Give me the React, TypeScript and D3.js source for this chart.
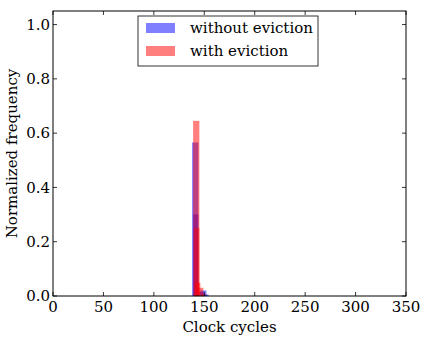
import * as d3 from "d3";
import { useEffect, useRef } from "react";

// histogram bins: [start cycle, end cycle, normalized frequency]
const withoutEviction: [number, number, number][] = [
  [138, 144, 0.565],
  [139, 144, 0.3],
  [143, 149, 0.015],
  [146, 152, 0.02],
  [149, 154, 0.005],
];
const withEviction: [number, number, number][] = [
  [139, 145, 0.645],
  [140, 145, 0.25],
  [141, 146, 0.048],
  [144, 149, 0.03],
  [147, 151, 0.008],
];
const xTicks = [0, 50, 100, 150, 200, 250, 300, 350];
const yTicks = [0, 0.2, 0.4, 0.6, 0.8, 1.0];
const legendItems = [
  { label: "without eviction", color: "blue" },
  { label: "with eviction", color: "red" },
];

export default function App() {
  const svgRef = useRef<SVGSVGElement>(null);
  const width = 423;
  const height = 338;
  const margin = { top: 11, right: 17, bottom: 42, left: 53 };

  useEffect(() => {
    const svg = d3.select(svgRef.current);
    svg.selectAll("*").remove();
    const font = "DejaVu Serif";
    const fs = 15;

    const x = d3.scaleLinear().domain([0, 350]).range([margin.left, width - margin.right]);
    const y = d3.scaleLinear().domain([0, 1.05]).range([height - margin.bottom, margin.top]);

    const g = svg.append("g");

    // bars
    const series = [
      { bins: withoutEviction, color: "blue" },
      { bins: withEviction, color: "red" },
    ];
    series.forEach((s) => {
      g.append("g")
        .selectAll("rect")
        .data(s.bins)
        .join("rect")
        .attr("x", (d) => x(d[0]))
        .attr("width", (d) => x(d[1]) - x(d[0]))
        .attr("y", (d) => y(d[2]))
        .attr("height", (d) => y(0) - y(d[2]))
        .attr("fill", s.color)
        .attr("fill-opacity", 0.5)
        .attr("stroke", s.color)
        .attr("stroke-opacity", 0.15)
        .attr("stroke-width", 0.5);
    });

    // frame
    g.append("rect")
      .attr("x", x(0))
      .attr("y", y(1.05))
      .attr("width", x(350) - x(0))
      .attr("height", y(0) - y(1.05))
      .attr("fill", "none")
      .attr("stroke", "#000")
      .attr("stroke-width", 1);

    const tickLen = 4;
    // x ticks (inside, bottom and top)
    xTicks.forEach((t) => {
      g.append("line")
        .attr("x1", x(t)).attr("x2", x(t))
        .attr("y1", y(0)).attr("y2", y(0) - tickLen)
        .attr("stroke", "#000").attr("stroke-width", 0.8);
      g.append("line")
        .attr("x1", x(t)).attr("x2", x(t))
        .attr("y1", y(1.05)).attr("y2", y(1.05) + tickLen)
        .attr("stroke", "#000").attr("stroke-width", 0.8);
      g.append("text")
        .attr("x", x(t))
        .attr("y", y(0) + 16)
        .attr("text-anchor", "middle")
        .style("font-family", font)
        .style("font-size", `${fs}px`)
        .text(String(t));
    });

    // y ticks (inside, left and right)
    yTicks.forEach((t) => {
      g.append("line")
        .attr("x1", x(0)).attr("x2", x(0) + tickLen)
        .attr("y1", y(t)).attr("y2", y(t))
        .attr("stroke", "#000").attr("stroke-width", 0.8);
      g.append("line")
        .attr("x1", x(350)).attr("x2", x(350) - tickLen)
        .attr("y1", y(t)).attr("y2", y(t))
        .attr("stroke", "#000").attr("stroke-width", 0.8);
      g.append("text")
        .attr("x", x(0) - 3)
        .attr("y", y(t))
        .attr("dy", "0.35em")
        .attr("text-anchor", "end")
        .style("font-family", font)
        .style("font-size", `${fs}px`)
        .text(t.toFixed(1));
    });

    // axis labels
    g.append("text")
      .attr("x", (x(0) + x(350)) / 2)
      .attr("y", 332)
      .attr("text-anchor", "middle")
      .style("font-family", font)
      .style("font-size", `${fs}px`)
      .text("Clock cycles");
    g.append("text")
      .attr("transform", `translate(12,${(y(0) + y(1.05)) / 2}) rotate(-90)`)
      .attr("text-anchor", "middle")
      .attr("dy", "0.35em")
      .style("font-family", font)
      .style("font-size", `${fs}px`)
      .text("Normalized frequency");

    // legend
    const lg = g.append("g").attr("transform", "translate(138,16)");
    lg.append("rect")
      .attr("width", 180)
      .attr("height", 50)
      .attr("fill", "#fff")
      .attr("stroke", "#000")
      .attr("stroke-width", 0.8);
    legendItems.forEach((item, i) => {
      lg.append("rect")
        .attr("x", 8)
        .attr("y", 7 + i * 23)
        .attr("width", 29)
        .attr("height", 10)
        .attr("fill", item.color)
        .attr("fill-opacity", 0.5);
      lg.append("text")
        .attr("x", 52)
        .attr("y", 12 + i * 23)
        .attr("dy", "0.35em")
        .style("font-family", font)
        .style("font-size", `${fs}px`)
        .text(item.label);
    });
  }, []);

  return (
    <svg
      ref={svgRef}
      width={width}
      height={height}
      style={{ position: "absolute", left: 0, top: 0, background: "#fff" }}
    />
  );
}
